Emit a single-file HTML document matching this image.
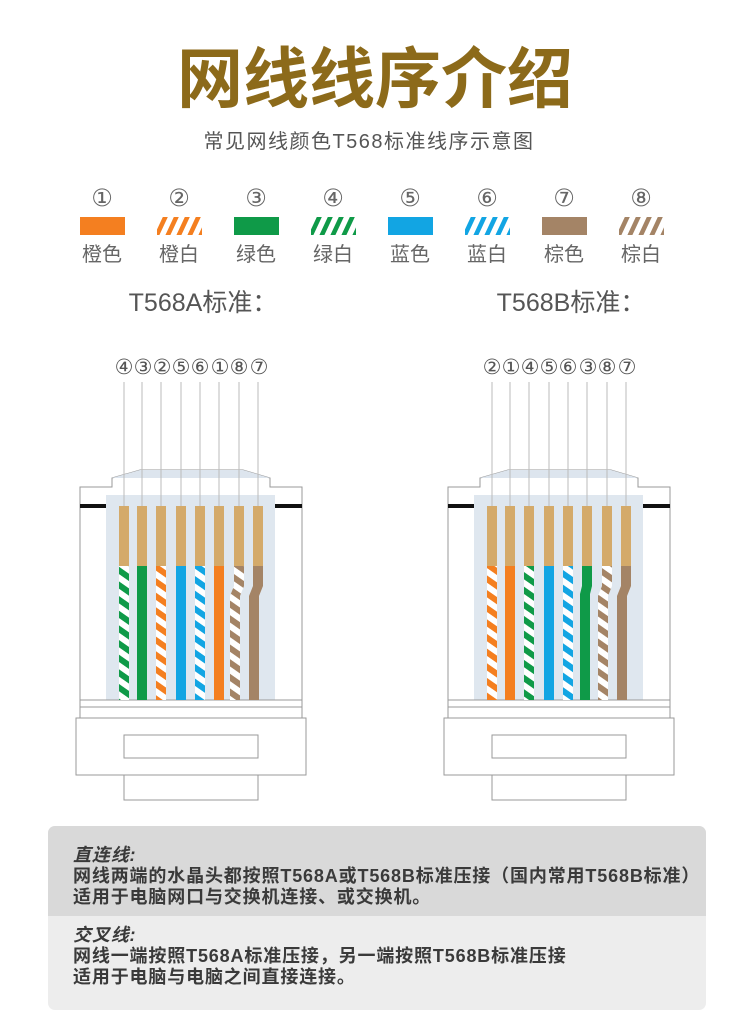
<!DOCTYPE html>
<html><head><meta charset="utf-8"><style>
body{margin:0;background:#fff;width:750px;height:1030px;overflow:hidden;font-family:"Liberation Sans","Noto Sans CJK SC",sans-serif}
</style></head><body>
<svg width="750" height="1030" viewBox="0 0 750 1030" xmlns="http://www.w3.org/2000/svg" style="display:block">
<defs>
<pattern id="so" width="12" height="12" patternUnits="userSpaceOnUse" patternTransform="rotate(35)"><rect width="12" height="12" fill="#fff"/><rect width="12" height="6" fill="#f47f20"/></pattern>
<pattern id="sg" width="12" height="12" patternUnits="userSpaceOnUse" patternTransform="rotate(35)"><rect width="12" height="12" fill="#fff"/><rect width="12" height="6" fill="#0f9a48"/></pattern>
<pattern id="sb" width="12" height="12" patternUnits="userSpaceOnUse" patternTransform="rotate(35)"><rect width="12" height="12" fill="#fff"/><rect width="12" height="6" fill="#12a5e3"/></pattern>
<pattern id="sn" width="12" height="12" patternUnits="userSpaceOnUse" patternTransform="rotate(35)"><rect width="12" height="12" fill="#fff"/><rect width="12" height="6" fill="#a48466"/></pattern>
<pattern id="lo" width="11" height="20" patternUnits="userSpaceOnUse" patternTransform="skewX(-25)"><rect width="5" height="20" fill="#f47f20"/></pattern>
<pattern id="lg" width="11" height="20" patternUnits="userSpaceOnUse" patternTransform="skewX(-25)"><rect width="5" height="20" fill="#0f9a48"/></pattern>
<pattern id="lb" width="11" height="20" patternUnits="userSpaceOnUse" patternTransform="skewX(-25)"><rect width="5" height="20" fill="#12a5e3"/></pattern>
<pattern id="ln" width="11" height="20" patternUnits="userSpaceOnUse" patternTransform="skewX(-25)"><rect width="5" height="20" fill="#a48466"/></pattern>
<g id="body" fill="none" stroke="#9a9a9a" stroke-width="1">
<path d="M80 487 H112 V478 L140 470 H243 L270 478 V487 H302 V707 H80 Z" fill="#fff"/>
<path d="M140 470 H243 L270 478 H112 Z" fill="#dde5ee" stroke="none"/>
<rect x="106" y="495" width="169" height="205" fill="#dfe7ef" stroke="none"/>
<line x1="80" y1="700" x2="302" y2="700"/>
<rect x="76" y="718" width="230" height="57" fill="#fff"/>
<line x1="80" y1="707" x2="80" y2="718"/><line x1="302" y1="707" x2="302" y2="718"/>
<rect x="124" y="735" width="134" height="23"/>
<rect x="124" y="775" width="134" height="25" fill="#fff"/>
<rect x="80" y="504" width="26" height="4" fill="#111" stroke="none"/>
<rect x="275" y="504" width="27" height="4" fill="#111" stroke="none"/>
</g>
</defs>

<text x="375" y="102" text-anchor="middle" font-family="'Noto Sans CJK SC',sans-serif" font-weight="bold" font-size="66" fill="#8c6a1a">网线线序介绍</text>
<text x="369" y="148" text-anchor="middle" font-family="'Liberation Sans','Noto Sans CJK SC',sans-serif" font-size="20" letter-spacing="1.5" fill="#555">常见网线颜色T568标准线序示意图</text>

<g font-family="'DejaVu Sans','Noto Sans CJK SC',sans-serif" fill="#666" text-anchor="middle">
<g font-size="24">
<text x="102" y="206">①</text><text x="179" y="206">②</text><text x="256" y="206">③</text><text x="333" y="206">④</text><text x="410" y="206">⑤</text><text x="487" y="206">⑥</text><text x="564" y="206">⑦</text><text x="641" y="206">⑧</text>
</g>
<rect x="80" y="217" width="45" height="18" fill="#f47f20"/>
<rect x="157" y="217" width="45" height="18" fill="url(#lo)"/>
<rect x="234" y="217" width="45" height="18" fill="#0f9a48"/>
<rect x="311" y="217" width="45" height="18" fill="url(#lg)"/>
<rect x="388" y="217" width="45" height="18" fill="#12a5e3"/>
<rect x="465" y="217" width="45" height="18" fill="url(#lb)"/>
<rect x="542" y="217" width="45" height="18" fill="#a48466"/>
<rect x="619" y="217" width="45" height="18" fill="url(#ln)"/>
<g font-size="20" font-family="'Liberation Sans','Noto Sans CJK SC',sans-serif">
<text x="102" y="261">橙色</text><text x="179" y="261">橙白</text><text x="256" y="261">绿色</text><text x="333" y="261">绿白</text><text x="410" y="261">蓝色</text><text x="487" y="261">蓝白</text><text x="564" y="261">棕色</text><text x="641" y="261">棕白</text>
</g>
<g font-size="25" fill="#555" font-family="'Liberation Sans','Noto Sans CJK SC',sans-serif">
<text x="203" y="311">T568A标准：</text><text x="571" y="311">T568B标准：</text>
</g>
<g font-size="21" fill="#555">
<text x="124" y="374">④</text><text x="143" y="374">③</text><text x="162" y="374">②</text><text x="181" y="374">⑤</text><text x="200" y="374">⑥</text><text x="220" y="374">①</text><text x="239" y="374">⑧</text><text x="259" y="374">⑦</text>
<text x="492" y="374">②</text><text x="511" y="374">①</text><text x="530" y="374">④</text><text x="549" y="374">⑤</text><text x="568" y="374">⑥</text><text x="588" y="374">③</text><text x="607" y="374">⑧</text><text x="627" y="374">⑦</text>
</g>
</g>

<use href="#body"/>
<use href="#body" x="368"/>

<g id="wA">
<g stroke="#bbb" stroke-width="1">
<line x1="124" y1="382" x2="124" y2="506"/><line x1="142" y1="382" x2="142" y2="506"/><line x1="161" y1="382" x2="161" y2="506"/><line x1="181" y1="382" x2="181" y2="506"/><line x1="200" y1="382" x2="200" y2="506"/><line x1="219" y1="382" x2="219" y2="506"/><line x1="239" y1="382" x2="239" y2="506"/><line x1="258" y1="382" x2="258" y2="506"/>
</g>
<g fill="#d4aa6a">
<rect x="119" y="506" width="10" height="60"/><rect x="137" y="506" width="10" height="60"/><rect x="156" y="506" width="10" height="60"/><rect x="176" y="506" width="10" height="60"/><rect x="195" y="506" width="10" height="60"/><rect x="214" y="506" width="10" height="60"/><rect x="234" y="506" width="10" height="60"/><rect x="253" y="506" width="10" height="60"/>
</g>
</g>
<use href="#wA" x="368"/>

<rect x="119" y="566" width="10" height="134" fill="url(#sg)"/>
<rect x="137" y="566" width="10" height="134" fill="#0f9a48"/>
<rect x="156" y="566" width="10" height="134" fill="url(#so)"/>
<rect x="176" y="566" width="10" height="134" fill="#12a5e3"/>
<rect x="195" y="566" width="10" height="134" fill="url(#sb)"/>
<rect x="214" y="566" width="10" height="134" fill="#f47f20"/>
<path d="M234 566 h10 v20 l-4 10 v104 h-10 v-104 l4 -10z" fill="url(#sn)"/>
<path d="M253 566 h10 v20 l-4 10 v104 h-10 v-104 l4 -10z" fill="#a48466"/>
<rect x="487" y="566" width="10" height="134" fill="url(#so)"/>
<rect x="505" y="566" width="10" height="134" fill="#f47f20"/>
<rect x="524" y="566" width="10" height="134" fill="url(#sg)"/>
<rect x="544" y="566" width="10" height="134" fill="#12a5e3"/>
<rect x="563" y="566" width="10" height="134" fill="url(#sb)"/>
<path d="M582 566 h10 v20 l-2 8 v106 h-10 v-106 l2 -8z" fill="#0f9a48"/>
<path d="M602 566 h10 v20 l-4 10 v104 h-10 v-104 l4 -10z" fill="url(#sn)"/>
<path d="M621 566 h10 v20 l-4 10 v104 h-10 v-104 l4 -10z" fill="#a48466"/>

<rect x="48" y="826" width="658" height="184" rx="7" fill="#ededed"/>
<path d="M48 916 V833 a7 7 0 0 1 7 -7 H699 a7 7 0 0 1 7 7 V916 Z" fill="#d9d9d9"/>
<g font-family="'Liberation Sans','Noto Sans CJK SC',sans-serif" font-size="18" letter-spacing="0.85" font-weight="bold" fill="#3a3a3a">
<text x="73" y="861" font-style="italic">直连线:</text>
<text x="73" y="882">网线两端的水晶头都按照T568A或T568B标准压接（国内常用T568B标准）</text>
<text x="73" y="903">适用于电脑网口与交换机连接、或交换机。</text>
<text x="73" y="941" font-style="italic">交叉线:</text>
<text x="73" y="962">网线一端按照T568A标准压接，另一端按照T568B标准压接</text>
<text x="73" y="983">适用于电脑与电脑之间直接连接。</text>
</g>
</svg>
</body></html>
